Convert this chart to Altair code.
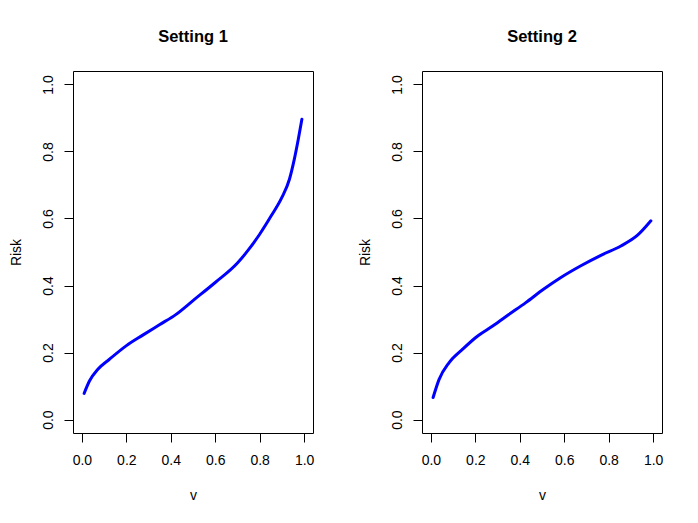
import altair as alt
import pandas as pd

# Setting 1
v1 = [0.01, 0.034, 0.072, 0.124, 0.199, 0.274, 0.349, 0.424, 0.50, 0.60,
      0.70, 0.75, 0.80, 0.852, 0.90, 0.934, 0.956, 0.974, 0.99]
risk1 = [0.078, 0.115, 0.150, 0.180, 0.220, 0.252, 0.283, 0.314, 0.355, 0.409,
         0.467, 0.507, 0.553, 0.608, 0.663, 0.717, 0.777, 0.837, 0.896]

# Setting 2
v2 = [0.01, 0.037, 0.082, 0.143, 0.202, 0.278, 0.352, 0.427, 0.505, 0.585,
      0.675, 0.765, 0.855, 0.930, 0.99]
risk2 = [0.066, 0.120, 0.170, 0.210, 0.245, 0.279, 0.314, 0.349, 0.388, 0.424,
         0.459, 0.490, 0.518, 0.550, 0.593]

tick_values = [0.0, 0.2, 0.4, 0.6, 0.8, 1.0]
titles = ["Setting 1", "Setting 2"]

FONT = "Liberation Sans"


def panel(v, r, title):
    df = pd.DataFrame({"v": v, "Risk": r})
    return (
        alt.Chart(
            df,
            title=alt.TitleParams(
                title, font=FONT, fontSize=16.5, fontWeight="bold", color="black",
                anchor="middle", baseline="alphabetic", offset=13, frame="group",
            ),
        )
        .mark_line(color="#0000FF", strokeWidth=3, interpolate="monotone", strokeCap="round")
        .encode(
            x=alt.X(
                "v:Q",
                scale=alt.Scale(domain=[-0.04, 1.04], nice=False, zero=False),
                axis=alt.Axis(
                    values=tick_values, format=".1f", title="v",
                    labelPadding=11, titlePadding=21,
                ),
            ),
            y=alt.Y(
                "Risk:Q",
                scale=alt.Scale(domain=[-0.04, 1.04], nice=False, zero=False),
                axis=alt.Axis(
                    values=tick_values, format=".1f", title="Risk",
                    labelAngle=270, labelAlign="center", labelBaseline="bottom",
                    labelPadding=9, titlePadding=18,
                ),
            ),
        )
        .properties(width=240, height=362)
    )


chart = (
    alt.hconcat(panel(v1, risk1, titles[0]), panel(v2, risk2, titles[1]), spacing=42)
    .properties(padding={"left": 0, "top": 20, "right": 0, "bottom": 0}, background="white")
    .configure_view(stroke="black", strokeWidth=1, fill="white")
    .configure_axis(
        grid=False, domain=False, ticks=True, tickSize=9, tickColor="black", tickWidth=1,
        labelFont=FONT, labelFontSize=14, labelColor="black",
        titleFont=FONT, titleFontSize=14, titleFontWeight="normal", titleColor="black",
        labelOverlap=False, labelFlush=False,
    )
)

chart.save("out.html", embed_options={"renderer": "svg", "actions": False})
